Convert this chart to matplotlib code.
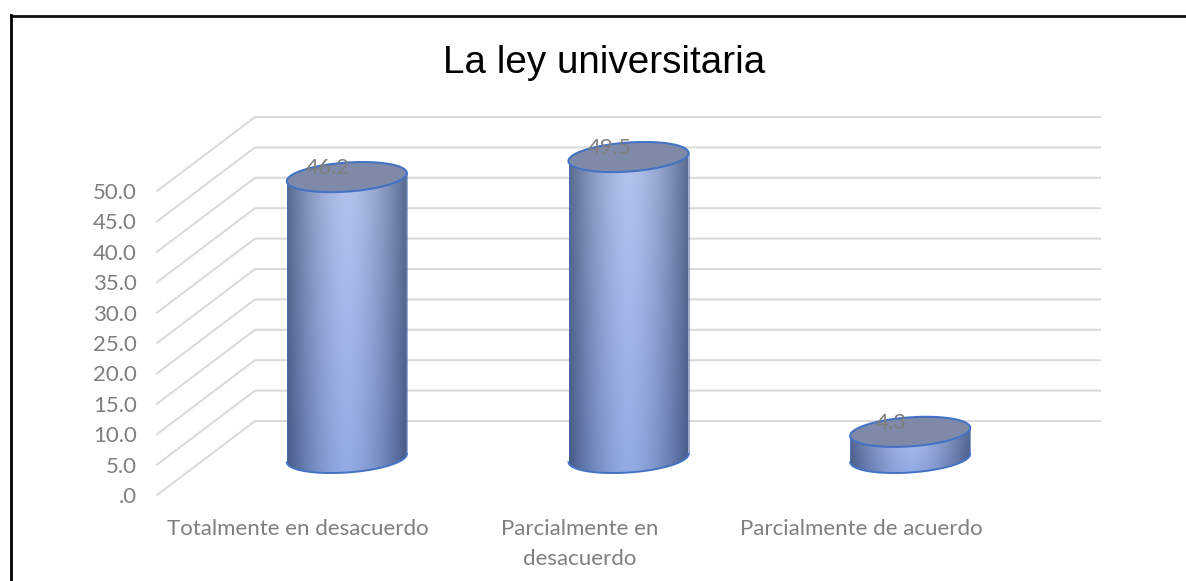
import numpy as np
import matplotlib
matplotlib.use("Agg")
import matplotlib.pyplot as plt
from matplotlib.patches import Polygon

categories = ["Totalmente en desacuerdo", "Parcialmente en\ndesacuerdo", "Parcialmente de acuerdo"]
values = [46.2, 49.5, 4.3]
yticks = [0, 5, 10, 15, 20, 25, 30, 35, 40, 45, 50]
yticklabels = [".0", "5.0", "10.0", "15.0", "20.0", "25.0", "30.0", "35.0", "40.0", "45.0", "50.0"]

W, H = 1186, 581
GRID = "#d9d9d9"
TXT = "#7f7f7f"
EDGE = "#4472c4"
TOPFILL = "#7f8aa9"

fig = plt.figure(figsize=(W / 100, H / 100), dpi=100, facecolor="white")
# front plane of the 3d box, in pixels: x 157-1002, y 495-191
ax = fig.add_axes([157 / W, (H - 495) / H, 845 / W, 304 / H])
ax.set_xlim(-0.5, 2.5)
ax.set_ylim(0, 50)
ax.patch.set_visible(False)
for s in ax.spines.values():
    s.set_visible(False)

# one unit of depth moves a point this far on screen
depth_x = 98 / 845 * 3
depth_y = 74 / 304 * 50


def proj(x, y, d):
    return x + d * depth_x, y + d * depth_y


# walls
for t in yticks:
    x0, y0 = proj(-0.5, t, 0)
    x1, y1 = proj(-0.5, t, 1)
    x2, y2 = proj(2.5, t, 1)
    ax.plot([x0, x1, x2], [y0, y1, y2], color=GRID, lw=1.4, clip_on=False, zorder=1,
            solid_joinstyle="miter")

# side shading of the cylinders
n = 256
u = np.linspace(-1, 1, n)
shade = np.abs(u) ** 1.6
col_top = np.array(matplotlib.colors.to_rgb("#b4c4ee"))
col_bot = np.array(matplotlib.colors.to_rgb("#93aae3"))
col_edge_top = np.array(matplotlib.colors.to_rgb("#5a6a90"))
col_edge_bot = np.array(matplotlib.colors.to_rgb("#465a88"))
m = 64
grad = np.zeros((m, n, 3))
for i in range(m):
    f = i / (m - 1)
    mid = col_top * (1 - f) + col_bot * f
    dark = col_edge_top * (1 - f) + col_edge_bot * f
    grad[i] = mid * (1 - shade[:, None]) + dark * shade[:, None]

half_w = 60 / 845 * 3
half_h = 14.5 / 304 * 50
shear = 4 / 304 * 50
t = np.linspace(0, 2 * np.pi, 200)

for i, v in enumerate(values):
    cx, cy0 = proj(i, 0, 0.5)
    cy1 = cy0 + v
    ex = cx + half_w * np.cos(t)
    off = shear * np.cos(t) + half_h * np.sin(t)
    # body outline: lower half of the base ellipse, then back over the top ellipse
    lower = np.sin(t) <= 0
    order = np.argsort(-np.cos(t[lower]))
    bx = ex[lower][order]
    by = (cy0 + off[lower])[order]
    body = np.column_stack([
        np.r_[bx, cx - half_w, cx + half_w],
        np.r_[by, cy1 - shear, cy1 + shear],
    ])
    im = ax.imshow(grad, extent=[cx - half_w, cx + half_w, by.min(), cy1 + half_h],
                   aspect="auto", origin="upper", zorder=3, interpolation="bilinear")
    patch = Polygon(body, closed=True, transform=ax.transData, fill=False, edgecolor="none")
    ax.add_patch(patch)
    im.set_clip_path(patch)
    im.set_clip_box(fig.bbox)
    ax.plot(bx, by, color=EDGE, lw=1.4, zorder=4, clip_on=False)
    ax.plot([cx - half_w] * 2, [by[-1], cy1 - shear], color=EDGE, lw=0.7, alpha=0.6, zorder=4, clip_on=False)
    ax.plot([cx + half_w] * 2, [by[0], cy1 + shear], color=EDGE, lw=0.7, alpha=0.6, zorder=4, clip_on=False)
    ax.fill(ex, cy1 + off, facecolor=TOPFILL, edgecolor=EDGE, lw=1.5, zorder=5, clip_on=False)
    ax.annotate(f"{v:.1f}", (cx, cy1), xytext=(-19, 9), textcoords="offset pixels",
                ha="center", va="center", fontsize=16, color=TXT, family="Lato",
                zorder=6, annotation_clip=False)

ax.set_xlim(-0.5, 2.5)
ax.set_ylim(0, 50)

ax.set_yticks(yticks)
ax.set_yticklabels(yticklabels, fontsize=16, color=TXT, family="Lato")
ax.set_xticks(range(len(categories)))
ax.set_xticklabels(categories, fontsize=16, color=TXT, family="Lato", linespacing=1.6, va="top")
ax.tick_params(axis="both", length=0)
ax.tick_params(axis="y", pad=14.5)
ax.tick_params(axis="x", pad=17.5)

fig.text(604 / W, 1 - 63 / H, "La ley universitaria", ha="center", va="center",
         fontsize=27.8, family="Liberation Sans", color="black")

# border of the pasted picture, only top and left show
fig.add_artist(plt.Line2D([10.5 / W, 1], [1 - 15.5 / H, 1 - 15.5 / H], color="#111111", lw=2))
fig.add_artist(plt.Line2D([10.5 / W, 10.5 / W], [0, 1 - 15 / H], color="black", lw=2))

fig.savefig("out.png", dpi=100)
